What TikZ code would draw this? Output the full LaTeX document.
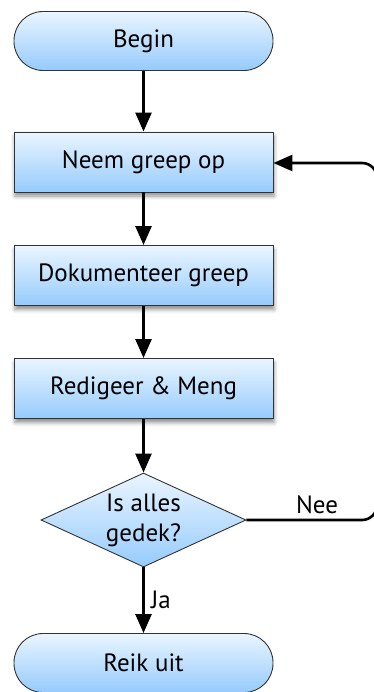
\documentclass[tikz,border=0pt]{standalone}
\usepackage{fontspec}
\setmainfont{PT Sans}
\usetikzlibrary{arrows.meta,shapes.geometric,shadows.blur}
\definecolor{topblue}{HTML}{EAF5FF}
\definecolor{botblue}{HTML}{96CBFC}
\definecolor{edge}{HTML}{333333}
\begin{document}
\begin{tikzpicture}[x=1pt,y=-1pt,
  every node/.style={font=\fontsize{25}{30}\selectfont},
  fillgrad/.style={top color=topblue,bottom color=botblue,draw=edge,line width=0.9pt},
  procbox/.style={fillgrad,rectangle,minimum width=259pt,minimum height=60pt,inner sep=0pt,
    blur shadow={shadow xshift=1pt,shadow yshift=-4pt,shadow blur radius=4pt,shadow opacity=45}},
  termbox/.style={fillgrad,rectangle,rounded corners=29pt,minimum width=259pt,minimum height=59pt,inner sep=0pt},
  decbox/.style={fillgrad,diamond,minimum width=205pt,minimum height=94pt,inner sep=0pt,aspect=2.18,align=center},
  conn/.style={line width=2.6pt,-{Triangle[length=19pt,width=16pt]}},
  lbl/.style={font=\fontsize{25}{30}\selectfont}]
\useasboundingbox (0,0) rectangle (374,692);
\clip (0,0) rectangle (374,692);
\node[termbox] (begin) at (143.5,41) {Begin};
\node[procbox] (neem) at (143.5,162) {Neem greep op};
\node[procbox] (dok) at (143.5,275.5) {Dokumenteer greep};
\node[procbox] (red) at (143.5,388.5) {Redigeer \& Meng};
\node[decbox] (dec) at (143.5,520) {Is alles\\gedek?};
\node[termbox] (reik) at (143.5,663) {Reik uit};
\coordinate (c1) at (377,520);
\coordinate (c2) at (377,163);
\draw[conn] (begin) -- (neem);
\draw[conn] (neem) -- (dok);
\draw[conn] (dok) -- (red);
\draw[conn] (red) -- (dec);
\draw[conn] (dec) -- node[lbl,anchor=west,xshift=3pt] (ja) {Ja} (reik);
\draw[conn,rounded corners=15pt] (dec.east) -- (c1) -- (c2) -- (neem.east |- c2);
\node[lbl] (nee) at (317,505) {Nee};
\end{tikzpicture}
\end{document}
